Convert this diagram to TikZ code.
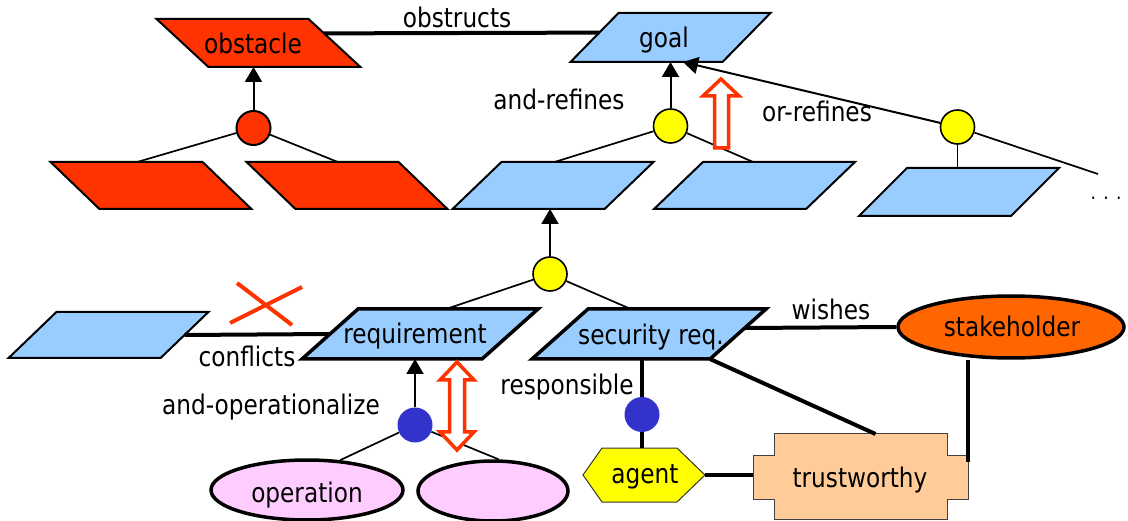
\documentclass[tikz,border=0pt]{standalone}
\usepackage{fontspec}
\setmainfont{DejaVu Sans}[FakeStretch=0.86]
\usetikzlibrary{arrows.meta,calc,shapes.geometric}
\definecolor{obred}{HTML}{FF3300}
\definecolor{sky}{HTML}{99CCFF}
\definecolor{yel}{HTML}{FFFF00}
\definecolor{dblue}{HTML}{3333CC}
\definecolor{pinkfill}{HTML}{FFCCFF}
\definecolor{orangefill}{HTML}{FF6600}
\definecolor{peach}{HTML}{FFCC99}
\begin{document}
\begin{tikzpicture}[x=1pt,y=-1pt,font=\fontsize{27}{30}\selectfont,
  para/.style={draw=black, line width=2pt, minimum width=152pt, minimum height=48pt, inner sep=0pt, outer sep=0pt},
  thickpara/.style={para, line width=3.5pt, minimum width=180pt, minimum height=50pt, fill=sky},
  lbl/.style={anchor=base, inner sep=0pt},
  andnode/.style={circle, draw=black, line width=1.6pt, minimum size=34pt, inner sep=0pt},
  opnode/.style={circle, fill=dblue, minimum size=35pt, inner sep=0pt},
  refline/.style={line width=1.7pt},
  heavy/.style={line width=4pt},
  refarrow/.style={line width=2pt, -{Triangle[width=17pt,length=15pt]}},
  hollow/.style={line width=3.5pt, draw=obred, fill=white, line join=miter},
  oval/.style={ellipse, draw=black, line width=3.5pt, inner sep=0pt}]
\useasboundingbox (0,0) rectangle (1128,521);

% shapes
\node[para, fill=obred, xslant=-1.08] (obstacle) at (258.5,43) {};
\node[para, fill=sky, xslant=0.98, minimum height=49pt] (goal) at (670.5,37.5) {};
\node[para, fill=obred, xslant=-1.04, minimum height=47pt] (oL) at (151,185.5) {};
\node[para, fill=obred, xslant=-1.04, minimum height=47pt] (oR) at (347,185.5) {};
\node[para, fill=sky, xslant=1.04, minimum height=47pt] (gL) at (553,185.5) {};
\node[para, fill=sky, xslant=1.04, minimum height=47pt] (gM) at (754.5,185.5) {};
\node[para, fill=sky, xslant=1.0] (gR) at (959,192) {};
\node[para, fill=sky, xslant=1.04, minimum height=46pt] (cL) at (108.5,335) {};
\node[thickpara, xslant=1.12] (req) at (420,334) {};
\node[thickpara, xslant=1.12, minimum width=178pt] (sec) at (649,334) {};

\node[andnode, fill=obred, line width=2pt] (oc) at (253.5,128) {};
\node[andnode, fill=yel] (gc1) at (670.5,126) {};
\node[andnode, fill=yel] (gc2) at (957.5,127) {};
\node[andnode, fill=yel] (gc3) at (550,274) {};
\node[opnode] (bc1) at (415,425) {};
\node[opnode] (bc2) at (642,414.5) {};

\node[oval, fill=pinkfill, minimum width=192pt, minimum height=60pt] (op) at (307,490) {};
\node[oval, fill=pinkfill, minimum width=150pt, minimum height=60pt] (op2) at (493,491) {};
\node[oval, fill=orangefill, minimum width=226pt, minimum height=62pt] (stake) at (1011,327) {};

\node[minimum width=122pt, minimum height=54pt, inner sep=0pt, outer sep=0pt] (agent) at (644,475) {};
\draw[fill=yel, draw=black!80, line width=1pt] (agent.west) -- ($(agent.north west)+(19,0)$) -- ($(agent.north east)+(-28,0)$) -- (agent.east) -- ($(agent.south east)+(-28,0)$) -- ($(agent.south west)+(19,0)$) -- cycle;

\node[minimum width=215pt, minimum height=85pt, inner sep=0pt, outer sep=0pt] (trust) at (860.5,476.5) {};
\draw[fill=peach, draw=black!75, line width=1pt]
  ($(trust.north west)+(21,0)$) -- ($(trust.north east)+(-21,0)$) -- ($(trust.north east)+(-21,21)$) -- ($(trust.north east)+(0,21)$)
  -- ($(trust.south east)+(0,-20)$) -- ($(trust.south east)+(-21,-20)$) -- ($(trust.south east)+(-21,0)$) -- ($(trust.south west)+(21,0)$)
  -- ($(trust.south west)+(21,-20)$) -- ($(trust.south west)+(0,-20)$) -- ($(trust.north west)+(0,21)$) -- ($(trust.north west)+(21,21)$) -- cycle;

% connectors
\draw[heavy] ($(obstacle.north east)!0.3!(obstacle.south east)$) -- ($(goal.north west)!0.4!(goal.south west)$);
\draw[refarrow] (oc.north) -- (oc.north |- obstacle.south);
\draw[refline] (oc) -- ($(oL.north west)!0.57!(oL.north east)$);
\draw[refline] (oc) -- ($(oR.north west)!0.6!(oR.north east)$);

\draw[refarrow] (gc1.north) -- (gc1.north |- goal.south);
\draw[refline] (gc1) -- ($(gL.north west)!0.35!(gL.north east)$);
\draw[refline] (gc1) -- ($(gM.north west)!0.33!(gM.north east)$);
\draw[refarrow] (gc2) -- ($(goal.south west)!0.74!(goal.south east)$);
\coordinate (more) at (1098,174);
\draw[refline] (gc2) -- (more);
\draw[refline] (gc2.south) -- (gc2.south |- gR.north);

\draw[refarrow] (gc3.north) -- (gc3.north |- gL.south);
\draw[refline] (gc3) -- ($(req.north west)!0.49!(req.north east)$);
\draw[refline] (gc3) -- ($(sec.north west)!0.24!(sec.north east)$);

\draw[heavy] (cL.east) -- (req.west);
\draw[refarrow] (bc1.north) -- (bc1.north |- req.south);
\draw[refline] (bc1) -- (op.42);
\draw[refline] (bc1) -- (op2.80);

\draw[heavy] (bc2 |- sec.south) -- (bc2.north);
\draw[heavy] (bc2.south) -- (bc2 |- agent.north);
\draw[heavy] (sec.south east) -- ($(trust.north)+(15,0)$);
\draw[heavy] ($(sec.north east)!0.38!(sec.south east)$) -- (stake.west);
\draw[heavy] (trust.east |- stake.south) -- ($(trust.east)+(0,-15)$);
\draw[heavy] (agent.east) -- (agent.east -| trust.west);

% red marks
\draw[hollow] (721,79) -- (739,96) -- (728.5,96) -- (728.5,148) -- (714.5,148) -- (714.5,96) -- (703,96) -- cycle;
\draw[hollow] (457,362) -- (474,380) -- (464.5,380) -- (464.5,432) -- (474,432) -- (457,450) -- (440,432) -- (449.5,432) -- (449.5,380) -- (440,380) -- cycle;
\draw[obred, line width=4pt] (237,283) -- (292,325);
\draw[obred, line width=4pt] (230,323) -- (302,287);

% texts
\node[lbl] (tobstacle) at (253,54) {obstacle};
\node[lbl] (tgoal) at (664,48) {goal};
\node[lbl] (lobs) at (457,28) {obstructs};
\node[lbl] (land) at (559,110) {and-refines};
\node[lbl] (lor) at (817,122) {or-refines};
\node[lbl, font=\fontsize{20}{24}\selectfont] (dots) at (1106,200) {. . .};
\node[lbl] (lconf) at (247,367) {conflicts};
\node[lbl] (lop) at (271,415) {and-operationalize};
\node[lbl] (treq) at (415,344) {requirement};
\node[lbl] (tsec) at (651,345) {security req.};
\node[lbl] (lresp) at (567,395) {responsible};
\node[lbl] (lwish) at (831,320) {wishes};
\node[lbl] (tstake) at (1012,337) {stakeholder};
\node[lbl] (tagent) at (645,483) {agent};
\node[lbl] (ttrust) at (860,487) {trustworthy};
\node[lbl] (toper) at (307,502) {operation};
\end{tikzpicture}
\end{document}
